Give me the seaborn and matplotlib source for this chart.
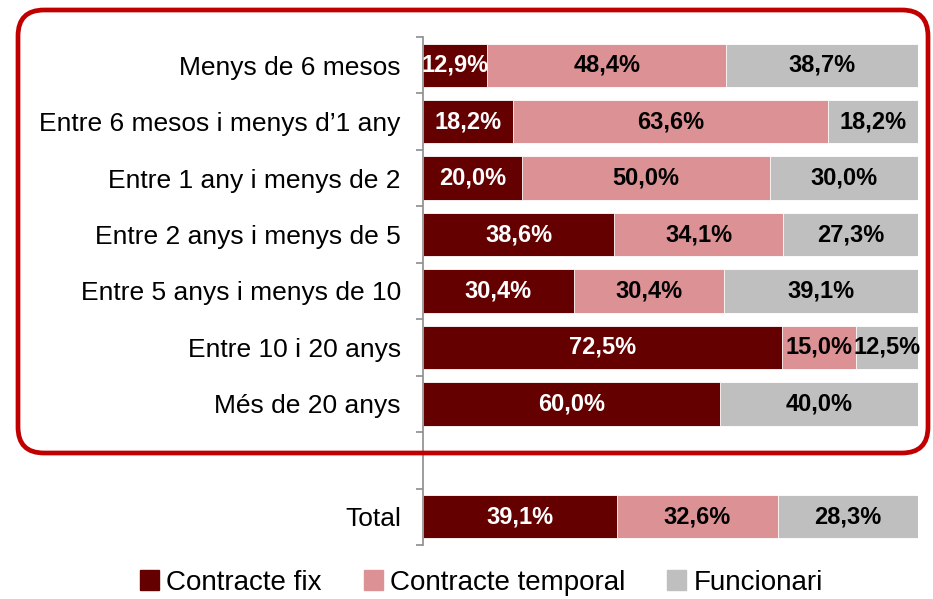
import numpy as np
import pandas as pd
import seaborn as sns
import matplotlib.pyplot as plt
from matplotlib.patches import FancyBboxPatch

# Antiguitat al lloc de treball vs. tipus de contracte (%)
categories = ["Menys de 6 mesos", "Entre 6 mesos i menys d\u20191 any",
              "Entre 1 any i menys de 2", "Entre 2 anys i menys de 5",
              "Entre 5 anys i menys de 10", "Entre 10 i 20 anys",
              "Més de 20 anys", " ", "Total"]
fix = [12.9, 18.2, 20.0, 38.6, 30.4, 72.5, 60.0, 0, 39.1]
temporal = [48.4, 63.6, 50.0, 34.1, 30.4, 15.0, 0, 0, 32.6]
funcionari = [38.7, 18.2, 30.0, 27.3, 39.1, 12.5, 40.0, 0, 28.3]
series_names = ["Contracte fix", "Contracte temporal", "Funcionari"]
colors = ["#640000", "#DC9294", "#BFBFBF"]

df = pd.DataFrame({"cat": categories, "fix": fix, "temp": temporal, "func": funcionari})
df["c1"] = df["fix"]
df["c2"] = df["fix"] + df["temp"]
df["c3"] = df["c2"] + df["func"]

sns.set_style("white")
plt.rcParams["font.family"] = ["Liberation Sans", "DejaVu Sans"]
plt.rcParams["text.color"] = "black"
plt.rcParams["ytick.labelcolor"] = "black"

fig = plt.figure(figsize=(9.33, 5.99), dpi=100)
ax = fig.add_axes([0.4534, 0.0902, 0.5306, 0.8480])

# stacked bars drawn as cumulative totals, back to front
for col, c in zip(["c3", "c2", "c1"], colors[::-1]):
    sns.barplot(data=df, x=col, y="cat", order=categories, color=c, orient="h",
                width=0.77, errorbar=None, saturation=1, edgecolor="white",
                linewidth=0.6, ax=ax)

# value labels
for i, row in df.iterrows():
    left = 0
    for v, tc in zip([row["fix"], row["temp"], row["func"]], ["white", "black", "black"]):
        if v > 0:
            ax.text(left + v / 2, i, f"{v:.1f}".replace(".", ",") + "%", ha="center",
                    va="center", color=tc, fontsize=17, fontweight="bold")
        left += v

ax.set_xlim(0, 100)
ax.set_ylim(len(categories) - 0.5, -0.5)
ax.set_xlabel("")
ax.set_ylabel("")
ax.set_xticks([])
ax.set_yticks(np.arange(-0.5, len(categories), 1), minor=True)
ax.tick_params(axis="y", which="major", left=False, length=0, pad=16, labelsize=19,
               labelcolor="black")
ax.tick_params(axis="y", which="minor", left=True, length=5, width=1.2,
               color="#8C8C8C", direction="out")
for s in ["top", "right", "bottom"]:
    ax.spines[s].set_visible(False)
ax.spines["left"].set_color("#8C8C8C")
ax.spines["left"].set_linewidth(1.2)

# red rounded frame around the detail rows
frame = FancyBboxPatch((0.18, 1.46), 9.10, 4.43, boxstyle="round,pad=0,rounding_size=0.26",
                       transform=fig.dpi_scale_trans, fill=False, edgecolor="#C00000",
                       linewidth=3.4, zorder=5)
fig.patches.append(frame)

handles = [plt.Rectangle((0, 0), 1, 1, color=c) for c in colors]
fig.legend(handles, series_names, loc="center", bbox_to_anchor=(0.516, 0.027), ncol=3,
           frameon=False, fontsize=20, handlelength=0.7, handleheight=0.7,
           handletextpad=0.25, columnspacing=1.5)

fig.savefig("out.png", dpi=100)
